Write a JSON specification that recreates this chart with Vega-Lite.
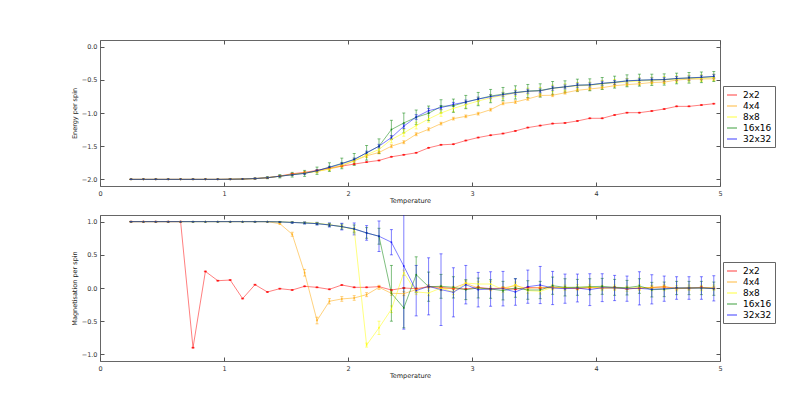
{
"$schema": "https://vega.github.io/schema/vega-lite/v6.json",
"padding": {"left": 70, "top": 39, "right": 0, "bottom": 0},
"datasets": {"d": [
{"T":0.25,"L":"2x2","E":-2,"dE":0.001,"M":1,"dM":0.005},
{"T":0.35,"L":"2x2","E":-2,"dE":0.001,"M":1,"dM":0.005},
{"T":0.45,"L":"2x2","E":-2,"dE":0.001,"M":1,"dM":0.005},
{"T":0.55,"L":"2x2","E":-2,"dE":0.001,"M":1,"dM":0.005},
{"T":0.65,"L":"2x2","E":-2,"dE":0.001,"M":1,"dM":0.005},
{"T":0.75,"L":"2x2","E":-2,"dE":0.001,"M":-0.9,"dM":0.005},
{"T":0.85,"L":"2x2","E":-2,"dE":0.001,"M":0.25,"dM":0.005},
{"T":0.95,"L":"2x2","E":-2,"dE":0.001,"M":0.11,"dM":0.005},
{"T":1.05,"L":"2x2","E":-1.998,"dE":0.001,"M":0.12,"dM":0.005},
{"T":1.15,"L":"2x2","E":-1.995,"dE":0.002,"M":-0.16,"dM":0.005},
{"T":1.25,"L":"2x2","E":-1.988,"dE":0.003,"M":0.05,"dM":0.005},
{"T":1.35,"L":"2x2","E":-1.975,"dE":0.004,"M":-0.06,"dM":0.005},
{"T":1.45,"L":"2x2","E":-1.95,"dE":0.005,"M":-0.01,"dM":0.005},
{"T":1.55,"L":"2x2","E":-1.915,"dE":0.005,"M":-0.03,"dM":0.005},
{"T":1.65,"L":"2x2","E":-1.895,"dE":0.005,"M":0.025,"dM":0.005},
{"T":1.75,"L":"2x2","E":-1.865,"dE":0.005,"M":0.01,"dM":0.005},
{"T":1.85,"L":"2x2","E":-1.83,"dE":0.005,"M":-0.02,"dM":0.005},
{"T":1.95,"L":"2x2","E":-1.8,"dE":0.005,"M":0.045,"dM":0.005},
{"T":2.05,"L":"2x2","E":-1.77,"dE":0.005,"M":0.01,"dM":0.005},
{"T":2.15,"L":"2x2","E":-1.74,"dE":0.005,"M":0.01,"dM":0.005},
{"T":2.25,"L":"2x2","E":-1.715,"dE":0.005,"M":0.02,"dM":0.005},
{"T":2.35,"L":"2x2","E":-1.66,"dE":0.005,"M":-0.03,"dM":0.005},
{"T":2.45,"L":"2x2","E":-1.63,"dE":0.005,"M":0,"dM":0.005},
{"T":2.55,"L":"2x2","E":-1.6,"dE":0.005,"M":-0.01,"dM":0.005},
{"T":2.65,"L":"2x2","E":-1.525,"dE":0.005,"M":0.02,"dM":0.005},
{"T":2.75,"L":"2x2","E":-1.48,"dE":0.005,"M":0.01,"dM":0.005},
{"T":2.85,"L":"2x2","E":-1.47,"dE":0.005,"M":-0.01,"dM":0.005},
{"T":2.95,"L":"2x2","E":-1.415,"dE":0.005,"M":-0.015,"dM":0.005},
{"T":3.05,"L":"2x2","E":-1.37,"dE":0.005,"M":0.01,"dM":0.005},
{"T":3.15,"L":"2x2","E":-1.335,"dE":0.005,"M":-0.01,"dM":0.005},
{"T":3.25,"L":"2x2","E":-1.31,"dE":0.005,"M":0,"dM":0.005},
{"T":3.35,"L":"2x2","E":-1.27,"dE":0.005,"M":-0.02,"dM":0.005},
{"T":3.45,"L":"2x2","E":-1.22,"dE":0.005,"M":0.01,"dM":0.005},
{"T":3.55,"L":"2x2","E":-1.19,"dE":0.005,"M":0,"dM":0.005},
{"T":3.65,"L":"2x2","E":-1.16,"dE":0.005,"M":0.01,"dM":0.005},
{"T":3.75,"L":"2x2","E":-1.15,"dE":0.005,"M":0,"dM":0.005},
{"T":3.85,"L":"2x2","E":-1.12,"dE":0.005,"M":-0.01,"dM":0.005},
{"T":3.95,"L":"2x2","E":-1.08,"dE":0.005,"M":0.005,"dM":0.005},
{"T":4.05,"L":"2x2","E":-1.08,"dE":0.005,"M":0,"dM":0.005},
{"T":4.15,"L":"2x2","E":-1.03,"dE":0.005,"M":0.01,"dM":0.005},
{"T":4.25,"L":"2x2","E":-0.995,"dE":0.005,"M":-0.015,"dM":0.005},
{"T":4.35,"L":"2x2","E":-0.995,"dE":0.005,"M":0,"dM":0.005},
{"T":4.45,"L":"2x2","E":-0.97,"dE":0.005,"M":0.005,"dM":0.005},
{"T":4.55,"L":"2x2","E":-0.94,"dE":0.005,"M":0.015,"dM":0.005},
{"T":4.65,"L":"2x2","E":-0.9,"dE":0.005,"M":-0.005,"dM":0.005},
{"T":4.75,"L":"2x2","E":-0.9,"dE":0.005,"M":0,"dM":0.005},
{"T":4.85,"L":"2x2","E":-0.88,"dE":0.005,"M":0.01,"dM":0.005},
{"T":4.95,"L":"2x2","E":-0.86,"dE":0.005,"M":-0.005,"dM":0.005},
{"T":0.25,"L":"4x4","E":-2,"dE":0.001,"M":1,"dM":0.001},
{"T":0.35,"L":"4x4","E":-2,"dE":0.001,"M":1,"dM":0.001},
{"T":0.45,"L":"4x4","E":-2,"dE":0.001,"M":1,"dM":0.001},
{"T":0.55,"L":"4x4","E":-2,"dE":0.001,"M":1,"dM":0.001},
{"T":0.65,"L":"4x4","E":-2,"dE":0.001,"M":1,"dM":0.001},
{"T":0.75,"L":"4x4","E":-2,"dE":0.001,"M":1,"dM":0.001},
{"T":0.85,"L":"4x4","E":-2,"dE":0.001,"M":1,"dM":0.001},
{"T":0.95,"L":"4x4","E":-2,"dE":0.001,"M":1,"dM":0.001},
{"T":1.05,"L":"4x4","E":-1.998,"dE":0.001,"M":1,"dM":0.001},
{"T":1.15,"L":"4x4","E":-1.995,"dE":0.002,"M":1,"dM":0.001},
{"T":1.25,"L":"4x4","E":-1.988,"dE":0.003,"M":1,"dM":0.002},
{"T":1.35,"L":"4x4","E":-1.975,"dE":0.005,"M":0.999,"dM":0.003},
{"T":1.45,"L":"4x4","E":-1.952,"dE":0.008,"M":0.97,"dM":0.01},
{"T":1.55,"L":"4x4","E":-1.925,"dE":0.01,"M":0.81,"dM":0.03},
{"T":1.65,"L":"4x4","E":-1.9,"dE":0.012,"M":0.23,"dM":0.05},
{"T":1.75,"L":"4x4","E":-1.88,"dE":0.015,"M":-0.49,"dM":0.05},
{"T":1.85,"L":"4x4","E":-1.845,"dE":0.015,"M":-0.2,"dM":0.04},
{"T":1.95,"L":"4x4","E":-1.8,"dE":0.018,"M":-0.165,"dM":0.035},
{"T":2.05,"L":"4x4","E":-1.72,"dE":0.02,"M":-0.15,"dM":0.035},
{"T":2.15,"L":"4x4","E":-1.645,"dE":0.02,"M":-0.1,"dM":0.03},
{"T":2.25,"L":"4x4","E":-1.595,"dE":0.02,"M":0.01,"dM":0.03},
{"T":2.35,"L":"4x4","E":-1.5,"dE":0.022,"M":-0.08,"dM":0.03},
{"T":2.45,"L":"4x4","E":-1.44,"dE":0.022,"M":-0.085,"dM":0.03},
{"T":2.55,"L":"4x4","E":-1.32,"dE":0.022,"M":-0.025,"dM":0.03},
{"T":2.65,"L":"4x4","E":-1.245,"dE":0.022,"M":0.025,"dM":0.025},
{"T":2.75,"L":"4x4","E":-1.16,"dE":0.02,"M":-0.01,"dM":0.025},
{"T":2.85,"L":"4x4","E":-1.085,"dE":0.02,"M":0,"dM":0.025},
{"T":2.95,"L":"4x4","E":-1.05,"dE":0.02,"M":0.07,"dM":0.02},
{"T":3.05,"L":"4x4","E":-1.01,"dE":0.02,"M":0,"dM":0.02},
{"T":3.15,"L":"4x4","E":-0.95,"dE":0.02,"M":-0.02,"dM":0.02},
{"T":3.25,"L":"4x4","E":-0.855,"dE":0.02,"M":0,"dM":0.02},
{"T":3.35,"L":"4x4","E":-0.835,"dE":0.02,"M":0.035,"dM":0.02},
{"T":3.45,"L":"4x4","E":-0.788,"dE":0.02,"M":-0.01,"dM":0.02},
{"T":3.55,"L":"4x4","E":-0.736,"dE":0.02,"M":0.01,"dM":0.02},
{"T":3.65,"L":"4x4","E":-0.733,"dE":0.02,"M":0,"dM":0.02},
{"T":3.75,"L":"4x4","E":-0.695,"dE":0.02,"M":0.005,"dM":0.02},
{"T":3.85,"L":"4x4","E":-0.658,"dE":0.02,"M":-0.005,"dM":0.02},
{"T":3.95,"L":"4x4","E":-0.638,"dE":0.02,"M":0.01,"dM":0.02},
{"T":4.05,"L":"4x4","E":-0.618,"dE":0.02,"M":0,"dM":0.02},
{"T":4.15,"L":"4x4","E":-0.588,"dE":0.02,"M":-0.005,"dM":0.02},
{"T":4.25,"L":"4x4","E":-0.572,"dE":0.02,"M":0,"dM":0.02},
{"T":4.35,"L":"4x4","E":-0.56,"dE":0.02,"M":-0.01,"dM":0.02},
{"T":4.45,"L":"4x4","E":-0.54,"dE":0.02,"M":0.01,"dM":0.02},
{"T":4.55,"L":"4x4","E":-0.535,"dE":0.02,"M":0.025,"dM":0.02},
{"T":4.65,"L":"4x4","E":-0.503,"dE":0.02,"M":-0.01,"dM":0.02},
{"T":4.75,"L":"4x4","E":-0.49,"dE":0.02,"M":-0.005,"dM":0.02},
{"T":4.85,"L":"4x4","E":-0.487,"dE":0.02,"M":0.005,"dM":0.02},
{"T":4.95,"L":"4x4","E":-0.485,"dE":0.02,"M":0,"dM":0.02},
{"T":0.25,"L":"8x8","E":-2,"dE":0.001,"M":1,"dM":0.001},
{"T":0.35,"L":"8x8","E":-2,"dE":0.001,"M":1,"dM":0.001},
{"T":0.45,"L":"8x8","E":-2,"dE":0.001,"M":1,"dM":0.001},
{"T":0.55,"L":"8x8","E":-2,"dE":0.001,"M":1,"dM":0.001},
{"T":0.65,"L":"8x8","E":-2,"dE":0.001,"M":1,"dM":0.001},
{"T":0.75,"L":"8x8","E":-2,"dE":0.001,"M":1,"dM":0.001},
{"T":0.85,"L":"8x8","E":-2,"dE":0.001,"M":1,"dM":0.001},
{"T":0.95,"L":"8x8","E":-2,"dE":0.001,"M":1,"dM":0.001},
{"T":1.05,"L":"8x8","E":-1.998,"dE":0.001,"M":1,"dM":0.001},
{"T":1.15,"L":"8x8","E":-1.995,"dE":0.002,"M":1,"dM":0.001},
{"T":1.25,"L":"8x8","E":-1.988,"dE":0.003,"M":1,"dM":0.001},
{"T":1.35,"L":"8x8","E":-1.975,"dE":0.006,"M":1,"dM":0.001},
{"T":1.45,"L":"8x8","E":-1.952,"dE":0.01,"M":0.998,"dM":0.003},
{"T":1.55,"L":"8x8","E":-1.928,"dE":0.014,"M":0.99,"dM":0.005},
{"T":1.65,"L":"8x8","E":-1.905,"dE":0.018,"M":0.985,"dM":0.008},
{"T":1.75,"L":"8x8","E":-1.88,"dE":0.022,"M":0.975,"dM":0.01},
{"T":1.85,"L":"8x8","E":-1.84,"dE":0.026,"M":0.955,"dM":0.015},
{"T":1.95,"L":"8x8","E":-1.78,"dE":0.03,"M":0.925,"dM":0.02},
{"T":2.05,"L":"8x8","E":-1.72,"dE":0.035,"M":0.88,"dM":0.03},
{"T":2.15,"L":"8x8","E":-1.63,"dE":0.04,"M":-0.86,"dM":0.03},
{"T":2.25,"L":"8x8","E":-1.55,"dE":0.045,"M":-0.6,"dM":0.1},
{"T":2.35,"L":"8x8","E":-1.4,"dE":0.05,"M":-0.32,"dM":0.05},
{"T":2.45,"L":"8x8","E":-1.3,"dE":0.05,"M":0.23,"dM":0.04},
{"T":2.55,"L":"8x8","E":-1.19,"dE":0.05,"M":-0.06,"dM":0.04},
{"T":2.65,"L":"8x8","E":-1.09,"dE":0.05,"M":-0.075,"dM":0.04},
{"T":2.75,"L":"8x8","E":-1,"dE":0.05,"M":0,"dM":0.04},
{"T":2.85,"L":"8x8","E":-0.93,"dE":0.05,"M":-0.06,"dM":0.04},
{"T":2.95,"L":"8x8","E":-0.875,"dE":0.05,"M":0.075,"dM":0.04},
{"T":3.05,"L":"8x8","E":-0.82,"dE":0.05,"M":0.06,"dM":0.04},
{"T":3.15,"L":"8x8","E":-0.77,"dE":0.05,"M":0.06,"dM":0.04},
{"T":3.25,"L":"8x8","E":-0.735,"dE":0.05,"M":-0.025,"dM":0.04},
{"T":3.35,"L":"8x8","E":-0.7,"dE":0.05,"M":0.05,"dM":0.04},
{"T":3.45,"L":"8x8","E":-0.675,"dE":0.05,"M":-0.04,"dM":0.04},
{"T":3.55,"L":"8x8","E":-0.665,"dE":0.05,"M":-0.05,"dM":0.04},
{"T":3.65,"L":"8x8","E":-0.63,"dE":0.05,"M":0.01,"dM":0.04},
{"T":3.75,"L":"8x8","E":-0.61,"dE":0.05,"M":0.005,"dM":0.04},
{"T":3.85,"L":"8x8","E":-0.59,"dE":0.05,"M":0.01,"dM":0.04},
{"T":3.95,"L":"8x8","E":-0.585,"dE":0.05,"M":0.015,"dM":0.04},
{"T":4.05,"L":"8x8","E":-0.56,"dE":0.05,"M":0,"dM":0.04},
{"T":4.15,"L":"8x8","E":-0.545,"dE":0.05,"M":0.005,"dM":0.04},
{"T":4.25,"L":"8x8","E":-0.53,"dE":0.05,"M":-0.01,"dM":0.04},
{"T":4.35,"L":"8x8","E":-0.52,"dE":0.05,"M":0.01,"dM":0.04},
{"T":4.45,"L":"8x8","E":-0.51,"dE":0.05,"M":0,"dM":0.04},
{"T":4.55,"L":"8x8","E":-0.5,"dE":0.05,"M":0,"dM":0.04},
{"T":4.65,"L":"8x8","E":-0.49,"dE":0.05,"M":-0.005,"dM":0.04},
{"T":4.75,"L":"8x8","E":-0.48,"dE":0.05,"M":0.005,"dM":0.04},
{"T":4.85,"L":"8x8","E":-0.475,"dE":0.05,"M":0,"dM":0.04},
{"T":4.95,"L":"8x8","E":-0.465,"dE":0.05,"M":0.005,"dM":0.04},
{"T":0.25,"L":"16x16","E":-2,"dE":0.002,"M":1,"dM":0.001},
{"T":0.35,"L":"16x16","E":-2,"dE":0.002,"M":1,"dM":0.001},
{"T":0.45,"L":"16x16","E":-2,"dE":0.002,"M":1,"dM":0.001},
{"T":0.55,"L":"16x16","E":-2,"dE":0.002,"M":1,"dM":0.001},
{"T":0.65,"L":"16x16","E":-2,"dE":0.002,"M":1,"dM":0.001},
{"T":0.75,"L":"16x16","E":-2,"dE":0.002,"M":1,"dM":0.001},
{"T":0.85,"L":"16x16","E":-2,"dE":0.002,"M":1,"dM":0.001},
{"T":0.95,"L":"16x16","E":-2,"dE":0.002,"M":1,"dM":0.001},
{"T":1.05,"L":"16x16","E":-1.998,"dE":0.003,"M":1,"dM":0.001},
{"T":1.15,"L":"16x16","E":-1.995,"dE":0.005,"M":1,"dM":0.001},
{"T":1.25,"L":"16x16","E":-1.988,"dE":0.008,"M":1,"dM":0.001},
{"T":1.35,"L":"16x16","E":-1.975,"dE":0.015,"M":1,"dM":0.002},
{"T":1.45,"L":"16x16","E":-1.953,"dE":0.025,"M":0.996,"dM":0.004},
{"T":1.55,"L":"16x16","E":-1.93,"dE":0.035,"M":0.988,"dM":0.008},
{"T":1.65,"L":"16x16","E":-1.91,"dE":0.045,"M":0.98,"dM":0.012},
{"T":1.75,"L":"16x16","E":-1.87,"dE":0.055,"M":0.97,"dM":0.016},
{"T":1.85,"L":"16x16","E":-1.815,"dE":0.065,"M":0.95,"dM":0.025},
{"T":1.95,"L":"16x16","E":-1.76,"dE":0.08,"M":0.925,"dM":0.04},
{"T":2.05,"L":"16x16","E":-1.7,"dE":0.09,"M":0.89,"dM":0.06},
{"T":2.15,"L":"16x16","E":-1.6,"dE":0.11,"M":0.83,"dM":0.08},
{"T":2.25,"L":"16x16","E":-1.5,"dE":0.11,"M":0.78,"dM":0.12},
{"T":2.35,"L":"16x16","E":-1.25,"dE":0.14,"M":-0.08,"dM":0.42},
{"T":2.45,"L":"16x16","E":-1.15,"dE":0.15,"M":-0.3,"dM":0.3},
{"T":2.55,"L":"16x16","E":-1.065,"dE":0.11,"M":0.2,"dM":0.27},
{"T":2.65,"L":"16x16","E":-1.005,"dE":0.11,"M":0.02,"dM":0.22},
{"T":2.75,"L":"16x16","E":-0.9,"dE":0.1,"M":0.025,"dM":0.18},
{"T":2.85,"L":"16x16","E":-0.89,"dE":0.1,"M":0.01,"dM":0.16},
{"T":2.95,"L":"16x16","E":-0.835,"dE":0.1,"M":-0.025,"dM":0.15},
{"T":3.05,"L":"16x16","E":-0.79,"dE":0.1,"M":0,"dM":0.15},
{"T":3.15,"L":"16x16","E":-0.745,"dE":0.1,"M":-0.015,"dM":0.14},
{"T":3.25,"L":"16x16","E":-0.715,"dE":0.1,"M":-0.04,"dM":0.14},
{"T":3.35,"L":"16x16","E":-0.69,"dE":0.1,"M":0,"dM":0.14},
{"T":3.45,"L":"16x16","E":-0.67,"dE":0.1,"M":-0.03,"dM":0.14},
{"T":3.55,"L":"16x16","E":-0.66,"dE":0.1,"M":-0.03,"dM":0.13},
{"T":3.65,"L":"16x16","E":-0.625,"dE":0.1,"M":0.035,"dM":0.13},
{"T":3.75,"L":"16x16","E":-0.605,"dE":0.09,"M":0.01,"dM":0.13},
{"T":3.85,"L":"16x16","E":-0.58,"dE":0.09,"M":0.01,"dM":0.12},
{"T":3.95,"L":"16x16","E":-0.575,"dE":0.09,"M":0.02,"dM":0.12},
{"T":4.05,"L":"16x16","E":-0.555,"dE":0.09,"M":0.025,"dM":0.12},
{"T":4.15,"L":"16x16","E":-0.535,"dE":0.09,"M":0.01,"dM":0.12},
{"T":4.25,"L":"16x16","E":-0.515,"dE":0.09,"M":0.005,"dM":0.11},
{"T":4.35,"L":"16x16","E":-0.505,"dE":0.09,"M":0.03,"dM":0.11},
{"T":4.45,"L":"16x16","E":-0.5,"dE":0.085,"M":-0.025,"dM":0.11},
{"T":4.55,"L":"16x16","E":-0.495,"dE":0.085,"M":-0.02,"dM":0.11},
{"T":4.65,"L":"16x16","E":-0.48,"dE":0.08,"M":0,"dM":0.1},
{"T":4.75,"L":"16x16","E":-0.47,"dE":0.08,"M":0,"dM":0.1},
{"T":4.85,"L":"16x16","E":-0.462,"dE":0.08,"M":0,"dM":0.1},
{"T":4.95,"L":"16x16","E":-0.45,"dE":0.075,"M":-0.01,"dM":0.1},
{"T":0.25,"L":"32x32","E":-2,"dE":0.002,"M":1,"dM":0.001},
{"T":0.35,"L":"32x32","E":-2,"dE":0.002,"M":1,"dM":0.001},
{"T":0.45,"L":"32x32","E":-2,"dE":0.002,"M":1,"dM":0.001},
{"T":0.55,"L":"32x32","E":-2,"dE":0.002,"M":1,"dM":0.001},
{"T":0.65,"L":"32x32","E":-2,"dE":0.002,"M":1,"dM":0.001},
{"T":0.75,"L":"32x32","E":-2,"dE":0.002,"M":1,"dM":0.001},
{"T":0.85,"L":"32x32","E":-2,"dE":0.002,"M":1,"dM":0.001},
{"T":0.95,"L":"32x32","E":-2,"dE":0.002,"M":1,"dM":0.001},
{"T":1.05,"L":"32x32","E":-1.998,"dE":0.002,"M":1,"dM":0.001},
{"T":1.15,"L":"32x32","E":-1.995,"dE":0.003,"M":1,"dM":0.001},
{"T":1.25,"L":"32x32","E":-1.988,"dE":0.005,"M":0.999,"dM":0.002},
{"T":1.35,"L":"32x32","E":-1.975,"dE":0.008,"M":0.999,"dM":0.003},
{"T":1.45,"L":"32x32","E":-1.953,"dE":0.01,"M":0.996,"dM":0.005},
{"T":1.55,"L":"32x32","E":-1.93,"dE":0.012,"M":0.988,"dM":0.01},
{"T":1.65,"L":"32x32","E":-1.91,"dE":0.014,"M":0.98,"dM":0.015},
{"T":1.75,"L":"32x32","E":-1.87,"dE":0.016,"M":0.97,"dM":0.02},
{"T":1.85,"L":"32x32","E":-1.82,"dE":0.018,"M":0.95,"dM":0.03},
{"T":1.95,"L":"32x32","E":-1.765,"dE":0.02,"M":0.925,"dM":0.05},
{"T":2.05,"L":"32x32","E":-1.7,"dE":0.022,"M":0.89,"dM":0.09},
{"T":2.15,"L":"32x32","E":-1.6,"dE":0.025,"M":0.83,"dM":0.11},
{"T":2.25,"L":"32x32","E":-1.5,"dE":0.028,"M":0.78,"dM":0.23},
{"T":2.35,"L":"32x32","E":-1.37,"dE":0.03,"M":0.69,"dM":0.19},
{"T":2.45,"L":"32x32","E":-1.2,"dE":0.035,"M":0.33,"dM":0.95},
{"T":2.55,"L":"32x32","E":-1.06,"dE":0.035,"M":-0.04,"dM":0.38},
{"T":2.65,"L":"32x32","E":-0.965,"dE":0.035,"M":0.025,"dM":0.43},
{"T":2.75,"L":"32x32","E":-0.92,"dE":0.03,"M":-0.025,"dM":0.54},
{"T":2.85,"L":"32x32","E":-0.87,"dE":0.03,"M":-0.065,"dM":0.37},
{"T":2.95,"L":"32x32","E":-0.835,"dE":0.03,"M":0.05,"dM":0.29},
{"T":3.05,"L":"32x32","E":-0.79,"dE":0.03,"M":-0.025,"dM":0.26},
{"T":3.15,"L":"32x32","E":-0.755,"dE":0.03,"M":-0.015,"dM":0.26},
{"T":3.25,"L":"32x32","E":-0.725,"dE":0.03,"M":-0.01,"dM":0.26},
{"T":3.35,"L":"32x32","E":-0.695,"dE":0.03,"M":-0.06,"dM":0.2},
{"T":3.45,"L":"32x32","E":-0.672,"dE":0.03,"M":0.02,"dM":0.25},
{"T":3.55,"L":"32x32","E":-0.667,"dE":0.03,"M":0.045,"dM":0.28},
{"T":3.65,"L":"32x32","E":-0.627,"dE":0.03,"M":0,"dM":0.25},
{"T":3.75,"L":"32x32","E":-0.607,"dE":0.03,"M":-0.01,"dM":0.22},
{"T":3.85,"L":"32x32","E":-0.582,"dE":0.03,"M":0,"dM":0.21},
{"T":3.95,"L":"32x32","E":-0.577,"dE":0.03,"M":-0.025,"dM":0.24},
{"T":4.05,"L":"32x32","E":-0.552,"dE":0.03,"M":0.005,"dM":0.21},
{"T":4.15,"L":"32x32","E":-0.54,"dE":0.03,"M":0,"dM":0.19},
{"T":4.25,"L":"32x32","E":-0.517,"dE":0.03,"M":-0.01,"dM":0.19},
{"T":4.35,"L":"32x32","E":-0.507,"dE":0.03,"M":-0.005,"dM":0.25},
{"T":4.45,"L":"32x32","E":-0.5,"dE":0.03,"M":-0.02,"dM":0.22},
{"T":4.55,"L":"32x32","E":-0.497,"dE":0.03,"M":-0.01,"dM":0.19},
{"T":4.65,"L":"32x32","E":-0.48,"dE":0.03,"M":0,"dM":0.17},
{"T":4.75,"L":"32x32","E":-0.473,"dE":0.03,"M":0,"dM":0.17},
{"T":4.85,"L":"32x32","E":-0.463,"dE":0.03,"M":0,"dM":0.17},
{"T":4.95,"L":"32x32","E":-0.448,"dE":0.03,"M":-0.005,"dM":0.19}
]},
"data": {"name": "d"},
"spacing": 29,
"bounds": "flush",
"resolve": {"legend": {"color": "independent"}},
"vconcat": [
{
"width": 620, "height": 146,
"resolve": {"axis": {"x": "independent", "y": "independent"}},
"layer": [
{
"mark": {"type": "errorbar", "ticks": {"size": 3, "opacity": 0.5}, "opacity": 0.5, "clip": true},
"encoding": {
"x": {"field": "T", "type": "quantitative", "scale": {"domain": [0, 5], "nice": false}, "axis": {"orient": "top", "labels": false, "title": null, "values": [0, 1, 2, 3, 4, 5]}},
"y": {"field": "E", "type": "quantitative", "scale": {"domain": [-2.1, 0.1], "nice": false, "zero": false}, "axis": {"orient": "right", "labels": false, "title": null, "values": [-2, -1.5, -1, -0.5, 0]}},
"yError": {"field": "dE"},
"color": {"field": "L", "type": "nominal", "scale": {"domain": ["2x2", "4x4", "8x8", "16x16", "32x32"], "range": ["#ff0000", "#ffa500", "#ffff00", "#008000", "#0000ff"]}, "legend": {"orient": "none", "legendX": 623, "legendY": 46}}
}
},
{
"mark": {"type": "line", "strokeWidth": 1, "opacity": 0.5, "clip": true, "point": {"size": 4, "filled": true, "opacity": 0.6}},
"encoding": {
"x": {"field": "T", "type": "quantitative", "scale": {"domain": [0, 5], "nice": false}, "axis": {"title": "Temperature", "values": [0, 1, 2, 3, 4, 5], "format": "d", "titlePadding": 1}},
"y": {"field": "E", "type": "quantitative", "scale": {"domain": [-2.1, 0.1], "nice": false, "zero": false}, "axis": {"title": "Energy per spin", "values": [-2, -1.5, -1, -0.5, 0], "format": ".1f", "labelPadding": 7}},
"color": {"field": "L", "type": "nominal",
"scale": {"domain": ["2x2", "4x4", "8x8", "16x16", "32x32"], "range": ["#ff0000", "#ffa500", "#ffff00", "#008000", "#0000ff"]},
"legend": {"orient": "none", "legendX": 623, "legendY": 46}}
}
}
]
},
{
"width": 620, "height": 146,
"resolve": {"axis": {"x": "independent", "y": "independent"}},
"layer": [
{
"mark": {"type": "errorbar", "ticks": {"size": 3, "opacity": 0.5}, "opacity": 0.5, "clip": true},
"encoding": {
"x": {"field": "T", "type": "quantitative", "scale": {"domain": [0, 5], "nice": false}, "axis": {"orient": "top", "labels": false, "title": null, "values": [0, 1, 2, 3, 4, 5]}},
"y": {"field": "M", "type": "quantitative", "scale": {"domain": [-1.1, 1.1], "nice": false, "zero": false}, "axis": {"orient": "right", "labels": false, "title": null, "values": [-1, -0.5, 0, 0.5, 1]}},
"yError": {"field": "dM"},
"color": {"field": "L", "type": "nominal", "scale": {"domain": ["2x2", "4x4", "8x8", "16x16", "32x32"], "range": ["#ff0000", "#ffa500", "#ffff00", "#008000", "#0000ff"]}, "legend": {"orient": "none", "legendX": 623, "legendY": 47}}
}
},
{
"mark": {"type": "line", "strokeWidth": 1, "opacity": 0.5, "clip": true, "point": {"size": 4, "filled": true, "opacity": 0.6}},
"encoding": {
"x": {"field": "T", "type": "quantitative", "scale": {"domain": [0, 5], "nice": false}, "axis": {"title": "Temperature", "values": [0, 1, 2, 3, 4, 5], "format": "d", "titlePadding": 1}},
"y": {"field": "M", "type": "quantitative", "scale": {"domain": [-1.1, 1.1], "nice": false, "zero": false}, "axis": {"title": "Magnetisation per spin", "values": [-1, -0.5, 0, 0.5, 1], "format": ".1f", "labelPadding": 7}},
"color": {"field": "L", "type": "nominal",
"scale": {"domain": ["2x2", "4x4", "8x8", "16x16", "32x32"], "range": ["#ff0000", "#ffa500", "#ffff00", "#008000", "#0000ff"]},
"legend": {"orient": "none", "legendX": 623, "legendY": 47}}
}
}
]
}
],
"config": {
"font": "DejaVu Sans",
"view": {"stroke": "#666", "strokeWidth": 1},
"axis": {"grid": false, "domain": false, "labelFontSize": 6.5, "titleFontSize": 6.5, "titleFontWeight": "normal", "labelColor": "#333", "titleColor": "#222", "tickColor": "#555", "tickSize": -4, "labelPadding": 8, "titlePadding": 4, "labelFlush": false},
"legend": {"strokeColor": "#666", "padding": 3, "symbolType": "stroke", "symbolStrokeWidth": 1.5, "symbolSize": 100, "symbolOpacity": 0.5, "labelFontSize": 9, "title": null, "rowPadding": -2.5, "labelOffset": 5, "fillColor": "white"}
}
}
